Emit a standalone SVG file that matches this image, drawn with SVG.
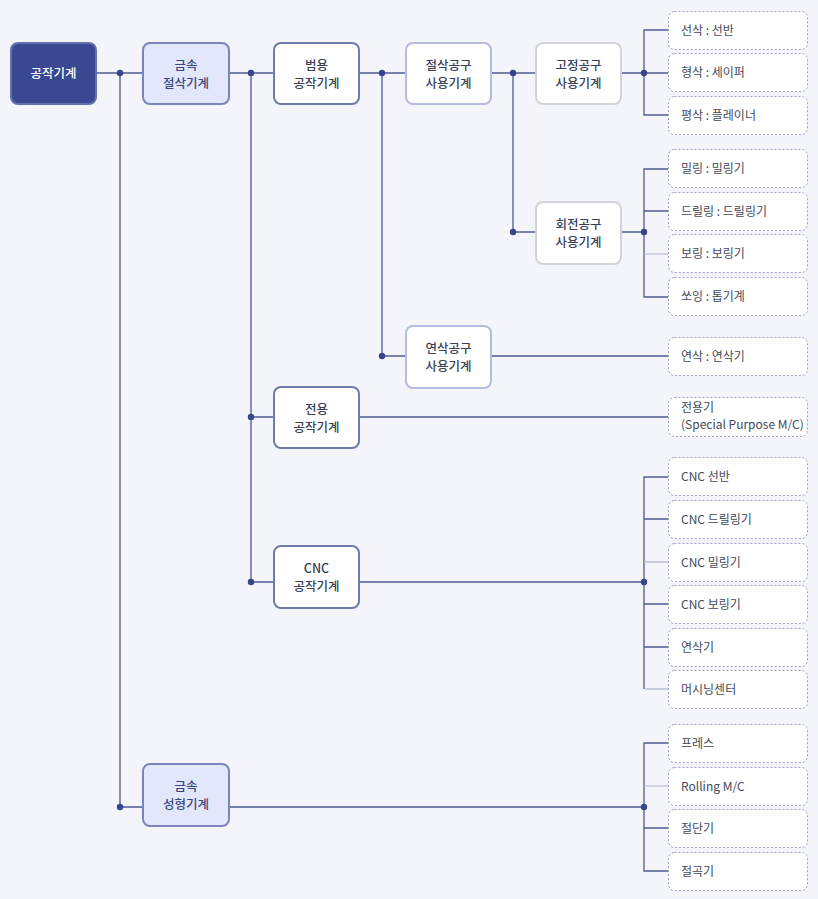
<svg xmlns="http://www.w3.org/2000/svg" width="818" height="899" viewBox="0 0 818 899">
<style>
text{font-family:"Noto Sans CJK KR","Noto Sans",sans-serif;}
.n{font-size:12.5px;font-weight:500;text-anchor:middle;fill:#3a3f55;}
.nw{fill:#ffffff;}
.nm{fill:#3a4580;}
.l{font-size:12px;fill:#444a5a;}
.root{fill:#3a4791;stroke:#6470b0;stroke-width:2;}
.metal{fill:#e3e7fb;stroke:#7b84bd;stroke-width:2;}
.gen{fill:#ffffff;stroke:#6f7bab;stroke-width:2;}
.tool{fill:#ffffff;stroke:#b4bce0;stroke-width:2;}
.sub{fill:#ffffff;stroke:#d3d4d8;stroke-width:2;}
.leaf{fill:#ffffff;stroke:#9ca2c2;stroke-width:1;stroke-dasharray:2 2;}
.c{stroke:#4f5b8f;stroke-width:1.3;fill:none;}
.cl{stroke:#b8c0d8;stroke-width:1.3;fill:none;}
.d{fill:#37448e;}
</style>
<rect width="818" height="899" fill="#f3f5fa"/>
<g id="connectors">
<path class="c" d="M96 73H143M229 73H274M359 73H406M491 73H536M621 73H668"/>
<path class="c" d="M120 73V807H143M251 73V582H274M251 417H274M382 73V356H406M513 73V232H536"/>
<path class="c" d="M668 30H644V115H668"/>
<path class="c" d="M621 232H644M668 169H644V297H668M644 211H668"/>
<path class="cl" d="M644 254H668"/>
<path class="c" d="M491 356H668M359 417H668"/>
<path class="c" d="M359 582H644M668 477H644V689M644 519H668M644 604H668M644 647H668"/>
<path class="cl" d="M644 562H668M645 689H668"/>
<path class="c" d="M229 807H644M668 743H644V871H668M644 828H668"/>
<path class="cl" d="M644 786H668"/>
<circle class="d" cx="120" cy="73" r="3.2"/>
<circle class="d" cx="120" cy="807" r="3.2"/>
<circle class="d" cx="251" cy="73" r="3.2"/>
<circle class="d" cx="251" cy="417" r="3.2"/>
<circle class="d" cx="251" cy="582" r="3.2"/>
<circle class="d" cx="382" cy="73" r="3.2"/>
<circle class="d" cx="382" cy="356" r="3.2"/>
<circle class="d" cx="513" cy="73" r="3.2"/>
<circle class="d" cx="513" cy="232" r="3.2"/>
<circle class="d" cx="644" cy="73" r="3.2"/>
<circle class="d" cx="644" cy="232" r="3.2"/>
<circle class="d" cx="644" cy="582" r="3.2"/>
<circle class="d" cx="644" cy="807" r="3.2"/>
</g>
<g id="n-root"><rect class="root" x="11" y="43" width="85" height="61" rx="7"/><text class="n nw" x="53.5" y="78">공작기계</text></g>
<g id="n-cut"><rect class="metal" x="143" y="43" width="86" height="61" rx="7"/><text class="n nm" x="186" y="69.5">금속</text><text class="n nm" x="186" y="87.7">절삭기계</text></g>
<g id="n-general"><rect class="gen" x="274" y="43" width="85" height="61" rx="7"/><text class="n" x="316.5" y="69.5">범용</text><text class="n" x="316.5" y="87.7">공작기계</text></g>
<g id="n-cuttool"><rect class="tool" x="406" y="43" width="85" height="61" rx="7"/><text class="n" x="448.5" y="69.5">절삭공구</text><text class="n" x="448.5" y="87.7">사용기계</text></g>
<g id="n-fixed"><rect class="sub" x="536" y="43" width="85" height="61" rx="7"/><text class="n" x="578.5" y="69.5">고정공구</text><text class="n" x="578.5" y="87.7">사용기계</text></g>
<g id="n-rotary"><rect class="sub" x="536" y="202" width="85" height="62" rx="7"/><text class="n" x="578.5" y="228.5">회전공구</text><text class="n" x="578.5" y="246.7">사용기계</text></g>
<g id="n-grind"><rect class="tool" x="406" y="326" width="85" height="62" rx="7"/><text class="n" x="448.5" y="352.5">연삭공구</text><text class="n" x="448.5" y="370.7">사용기계</text></g>
<g id="n-special"><rect class="gen" x="274" y="387" width="85" height="61" rx="7"/><text class="n" x="316.5" y="413.5">전용</text><text class="n" x="316.5" y="431.7">공작기계</text></g>
<g id="n-cnc"><rect class="gen" x="274" y="546" width="85" height="62" rx="7"/><text class="n" x="316.5" y="572.5">CNC</text><text class="n" x="316.5" y="590.7">공작기계</text></g>
<g id="n-form"><rect class="metal" x="143" y="764" width="86" height="62" rx="7"/><text class="n nm" x="186" y="790.5">금속</text><text class="n nm" x="186" y="808.7">성형기계</text></g>
<g id="l1"><rect class="leaf" x="668.5" y="11.5" width="139" height="38" rx="6"/><text class="l" x="681" y="34.5">선삭 : 선반</text></g>
<g id="l2"><rect class="leaf" x="668.5" y="53.5" width="139" height="38" rx="6"/><text class="l" x="681" y="77">형삭 : 세이퍼</text></g>
<g id="l3"><rect class="leaf" x="668.5" y="96.5" width="139" height="38" rx="6"/><text class="l" x="681" y="119.5">평삭 : 플레이너</text></g>
<g id="l4"><rect class="leaf" x="668.5" y="149.5" width="139" height="38" rx="6"/><text class="l" x="681" y="173">밀링 : 밀링기</text></g>
<g id="l5"><rect class="leaf" x="668.5" y="192.5" width="139" height="38" rx="6"/><text class="l" x="681" y="215.5">드릴링 : 드릴링기</text></g>
<g id="l6"><rect class="leaf" x="668.5" y="234.5" width="139" height="38" rx="6"/><text class="l" x="681" y="258">보링 : 보링기</text></g>
<g id="l7"><rect class="leaf" x="668.5" y="277.5" width="139" height="38" rx="6"/><text class="l" x="681" y="301">쏘잉 : 톱기계</text></g>
<g id="l8"><rect class="leaf" x="668.5" y="337.5" width="139" height="38" rx="6"/><text class="l" x="681" y="360.5">연삭 : 연삭기</text></g>
<g id="l9"><rect class="leaf" x="668.5" y="397.5" width="139" height="39" rx="6"/><text class="l" x="681" y="411.5">전용기</text><text class="l" x="681" y="429.2">(Special Purpose M/C)</text></g>
<g id="l10"><rect class="leaf" x="668.5" y="457.5" width="139" height="38" rx="6"/><text class="l" x="681" y="481">CNC 선반</text></g>
<g id="l11"><rect class="leaf" x="668.5" y="500.5" width="139" height="38" rx="6"/><text class="l" x="681" y="523.5">CNC  드릴링기</text></g>
<g id="l12"><rect class="leaf" x="668.5" y="543.5" width="139" height="38" rx="6"/><text class="l" x="681" y="566.5">CNC  밀링기</text></g>
<g id="l13"><rect class="leaf" x="668.5" y="585.5" width="139" height="38" rx="6"/><text class="l" x="681" y="609">CNC  보링기</text></g>
<g id="l14"><rect class="leaf" x="668.5" y="628.5" width="139" height="38" rx="6"/><text class="l" x="681" y="651.5">연삭기</text></g>
<g id="l15"><rect class="leaf" x="668.5" y="670.5" width="139" height="38" rx="6"/><text class="l" x="681" y="694">머시닝센터</text></g>
<g id="l16"><rect class="leaf" x="668.5" y="724.5" width="139" height="38" rx="6"/><text class="l" x="681" y="747.5">프레스</text></g>
<g id="l17"><rect class="leaf" x="668.5" y="767.5" width="139" height="38" rx="6"/><text class="l" x="681" y="790.5">Rolling M/C</text></g>
<g id="l18"><rect class="leaf" x="668.5" y="809.5" width="139" height="38" rx="6"/><text class="l" x="681" y="833">절단기</text></g>
<g id="l19"><rect class="leaf" x="668.5" y="852.5" width="139" height="38" rx="6"/><text class="l" x="681" y="875.5">절곡기</text></g>
</svg>
